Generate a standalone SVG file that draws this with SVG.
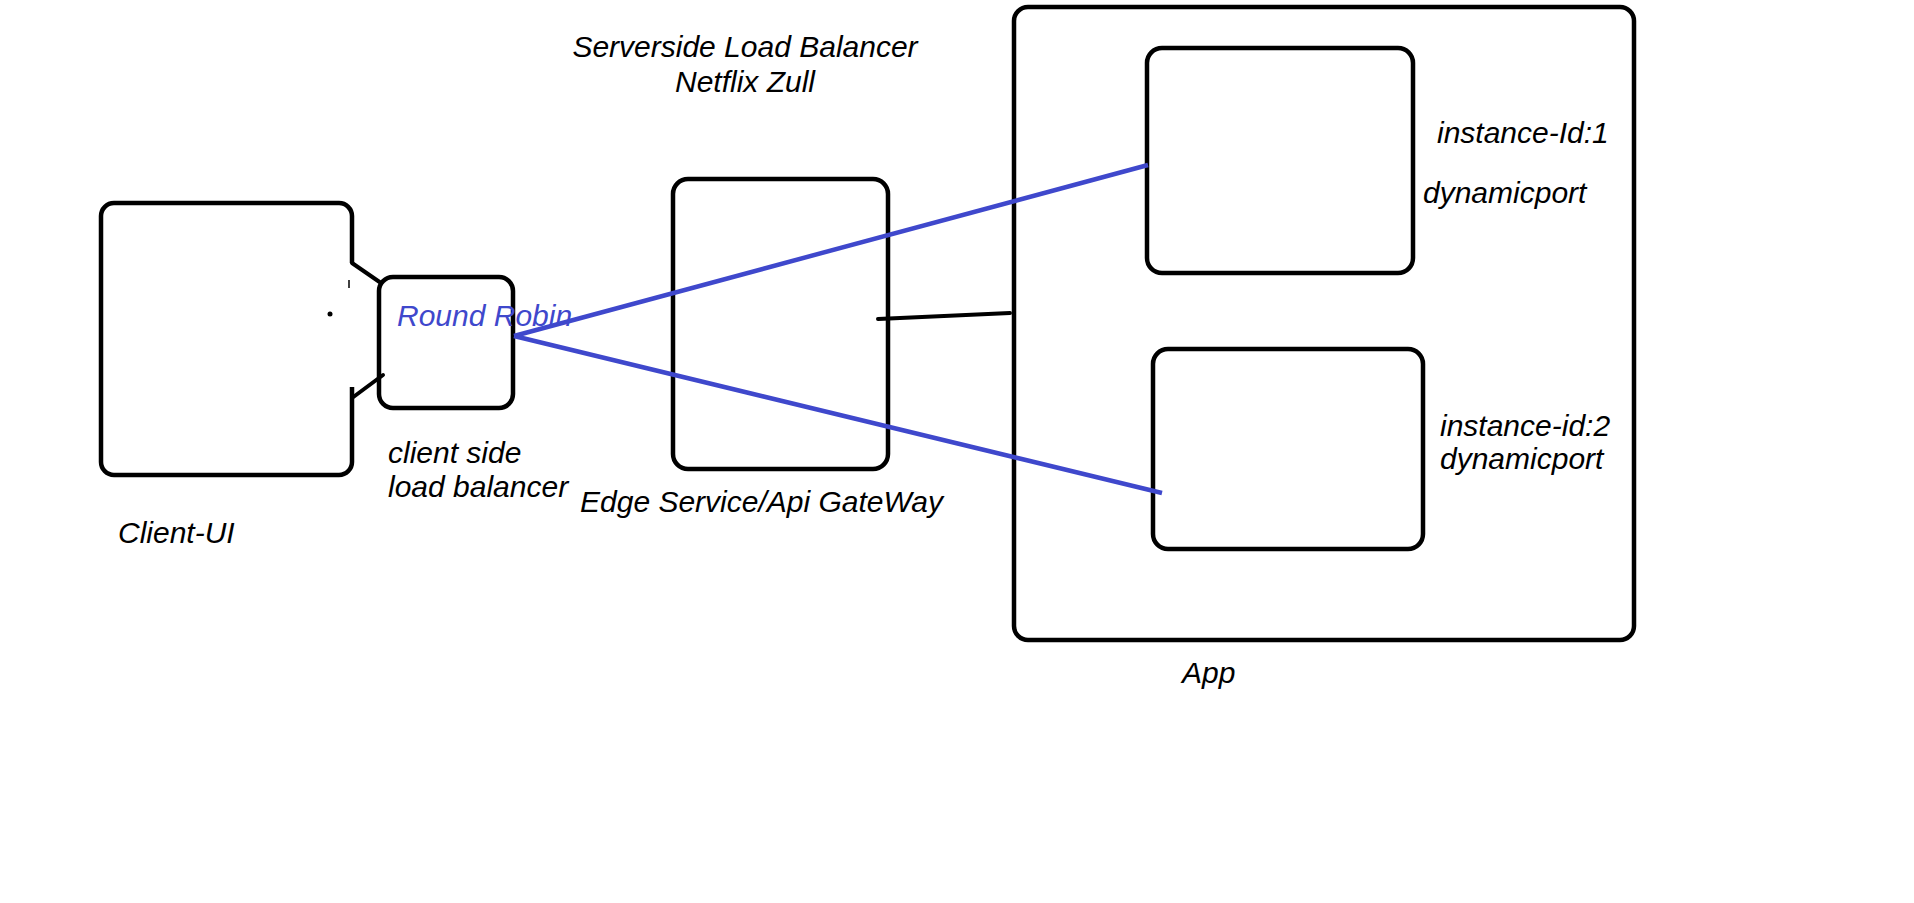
<svg xmlns="http://www.w3.org/2000/svg" width="1914" height="903" viewBox="0 0 1914 903">
<style>
.box{fill:none;stroke:#000;stroke-width:4.5}
.ln{fill:none;stroke:#000;stroke-width:4;stroke-linecap:round}
.bl{fill:none;stroke:#3F48CC;stroke-width:4.5;stroke-linecap:butt}
text{font-family:"Liberation Sans",Arial,sans-serif;font-style:italic;font-size:30px;fill:#000}
.blue{fill:#3F48CC}
</style>
<rect width="1914" height="903" fill="#fff"/>
<g id="client-ui">
<path class="box" d="M352,263 V216 A13,13 0 0 0 339,203 H114 A13,13 0 0 0 101,216 V462 A13,13 0 0 0 114,475 H339 A13,13 0 0 0 352,462 V387"/>
<line x1="349" y1="280" x2="349" y2="288" stroke="#000" stroke-width="1.5"/>
<circle cx="330" cy="314" r="2.5" fill="#000"/>
<text x="118" y="543">Client-UI</text>
</g>
<g id="client-lb">
<rect class="box" x="379" y="277" width="134" height="131" rx="14"/>
<text class="blue" x="397" y="326">Round Robin</text>
<text x="388" y="463">client side</text>
<text x="388" y="497">load balancer</text>
</g>
<g id="gateway">
<rect class="box" x="673" y="179" width="215" height="290" rx="15"/>
<text x="580" y="512">Edge Service/Api GateWay</text>
<text x="745" y="57" text-anchor="middle">Serverside Load Balancer</text>
<text x="745" y="92" text-anchor="middle">Netflix Zull</text>
</g>
<g id="app">
<rect class="box" x="1014" y="7" width="620" height="633" rx="14"/>
<text x="1182" y="683">App</text>
</g>
<g id="instance1">
<rect class="box" x="1147" y="48" width="266" height="225" rx="15"/>
<text x="1437" y="143">instance-Id:1</text>
<text x="1423" y="203">dynamicport</text>
</g>
<g id="instance2">
<rect class="box" x="1153" y="349" width="270" height="200" rx="15"/>
<text x="1440" y="436">instance-id:2</text>
<text x="1440" y="469">dynamicport</text>
</g>
<g id="connectors">
<line class="ln" x1="352" y1="263" x2="381" y2="283"/>
<line class="ln" x1="352" y1="398" x2="383" y2="375"/>
<line class="bl" x1="514" y1="336" x2="1148" y2="165"/>
<line class="bl" x1="514" y1="336" x2="1162" y2="493"/>
<line class="ln" x1="878" y1="319" x2="1010" y2="313"/>
</g>
</svg>
